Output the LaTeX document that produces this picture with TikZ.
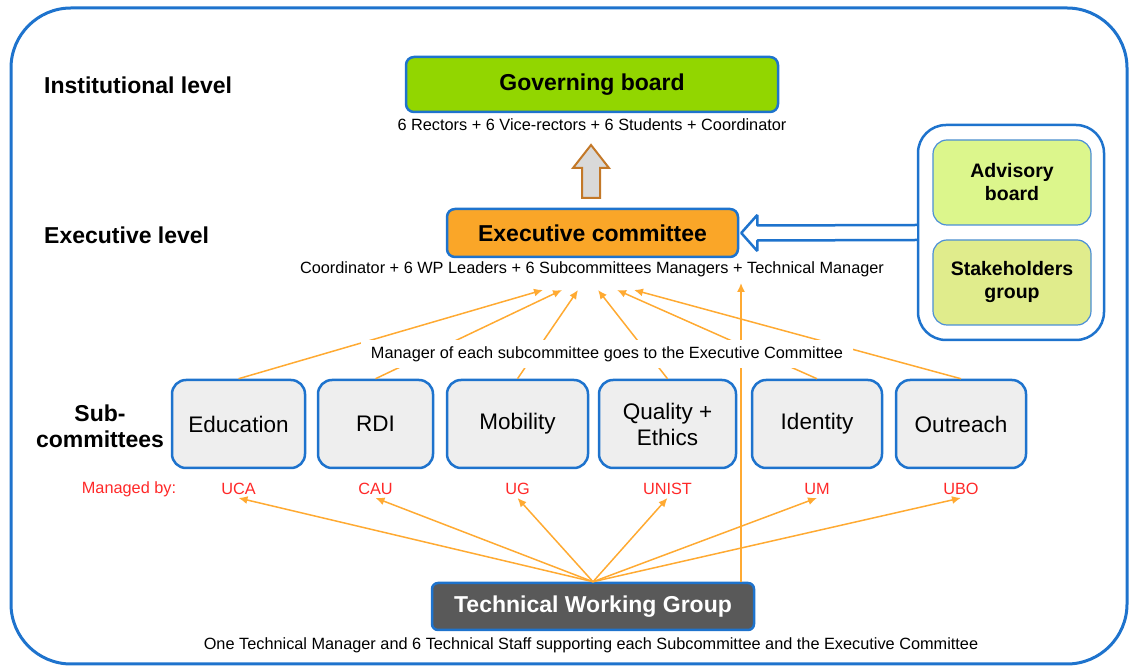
\documentclass[tikz,border=0pt]{standalone}
\usepackage{fontspec}
\setmainfont{Liberation Sans}
\usetikzlibrary{arrows.meta}
\usetikzlibrary{calc}

\definecolor{lineblue}{RGB}{30,115,205}
\definecolor{govgreen}{RGB}{146,214,0}
\definecolor{execorange}{RGB}{250,166,40}
\definecolor{advgreen}{RGB}{220,246,140}
\definecolor{stkgreen}{RGB}{224,236,140}
\definecolor{subgray}{RGB}{238,238,238}
\definecolor{twggray}{RGB}{89,89,89}
\definecolor{feedorange}{RGB}{255,170,50}
\definecolor{mgrred}{RGB}{255,40,40}
\definecolor{upbrown}{RGB}{195,120,40}
\definecolor{upgray}{RGB}{217,217,217}

\newcommand{\headfont}{\fontsize{23bp}{26bp}\selectfont\bfseries}
\newcommand{\boxfont}{\fontsize{22.5bp}{26bp}\selectfont}
\newcommand{\sidefont}{\fontsize{19.5bp}{23bp}\selectfont\bfseries}
\newcommand{\notefont}{\fontsize{16.3bp}{19bp}\selectfont}

\tikzset{
  blockbox/.style={draw=lineblue, line width=2.5bp, rounded corners=8bp, inner sep=0pt, align=center},
  subbox/.style={blockbox, fill=subgray, rounded corners=14bp, minimum height=88bp, font=\boxfont},
  sidebox/.style={draw=lineblue!80, line width=1.2bp, rounded corners=14bp, minimum width=158bp, minimum height=85bp, align=center, font=\sidefont},
  levellabel/.style={anchor=west, inner sep=0pt, font=\headfont},
  note/.style={inner sep=2bp, font=\notefont},
  mgrlabel/.style={inner sep=3bp, text=mgrred, font=\notefont},
  feed/.style={draw=feedorange, line width=1.5bp, -{Latex[length=9bp,width=8bp]}},
}

\begin{document}
\begin{tikzpicture}[>=latex,line join=bevel,]
\useasboundingbox (0bp,0bp) rectangle (1130bp,670bp);
%%
\draw [lineblue, line width=3bp, rounded corners=60bp] (11bp,6bp) rectangle (1127bp,662bp);
%
\node (inst_lbl) at (44bp,585bp) [levellabel] {Institutional level};
\node (exec_lbl) at (44bp,435bp) [levellabel] {Executive level};
\node (sub_lbl) at (100bp,244bp) [align=center, inner sep=0pt, font=\headfont] {Sub-\\committees};
%
\node (gov) at (592bp,585.5bp) [blockbox, fill=govgreen, minimum width=372bp, minimum height=55bp, font=\headfont] {Governing board};
\node (gov_note) at (592bp,545bp) [note] {6 Rectors + 6 Vice-rectors + 6 Students + Coordinator};
\node (exec) at (592.5bp,437bp) [blockbox, fill=execorange, minimum width=291bp, minimum height=48bp, font=\headfont] {Executive committee};
\node (exec_note) at (592bp,401bp) [note] {Coordinator + 6 WP Leaders + 6 Subcommittees Managers + Technical Manager};
% hollow arrow up to the board
\draw [upbrown, fill=upgray, line width=2bp, line join=miter] (582bp,472bp) -- (582bp,502bp) -- (573bp,502bp) -- (591bp,525bp) -- (609bp,502bp) -- (600bp,502bp) -- (600bp,472bp) -- cycle;
%
\node (panel) at (1011bp,437.5bp) [draw=lineblue, line width=2.5bp, fill=white, rounded corners=28bp, minimum width=186bp, minimum height=215bp] {};
\node (advisory) at (1012bp,487.5bp) [sidebox, fill=advgreen] {Advisory\\board};
\node (stake) at (1012bp,387.5bp) [sidebox, fill=stkgreen] {Stakeholders\\group};
\draw [lineblue, line width=2.5bp, fill=white] ($(panel.west)+(0,7.5bp)$) -- ($(exec.east)+(18bp,7.5bp)$) -- ($(exec.east)+(18bp,18bp)$) -- ($(exec.east)+(2bp,0)$) -- ($(exec.east)+(18bp,-18bp)$) -- ($(exec.east)+(18bp,-7.5bp)$) -- ($(panel.west)+(0,-7.5bp)$);
%
\node (edu) at (238.5bp,246bp) [subbox, minimum width=133bp] {Education};
\node (rdi) at (375.5bp,246bp) [subbox, minimum width=115bp] {RDI};
\node (mob) at (517.5bp,246bp) [subbox, minimum width=141bp] {Mobility};
\node (qual) at (667.5bp,246bp) [subbox, minimum width=137bp] {Quality +\\Ethics};
\node (iden) at (817bp,246bp) [subbox, minimum width=130bp] {Identity};
\node (outr) at (961bp,246bp) [subbox, minimum width=130bp] {Outreach};
%
\node (mgr_lbl) at (129bp,181bp) [mgrlabel] {Managed by:};
\node (mgr_edu) at (238.5bp,181bp) [mgrlabel] {UCA};
\node (mgr_rdi) at (375.5bp,181bp) [mgrlabel] {CAU};
\node (mgr_mob) at (517.5bp,181bp) [mgrlabel] {UG};
\node (mgr_qual) at (667.5bp,181bp) [mgrlabel] {UNIST};
\node (mgr_iden) at (817bp,181bp) [mgrlabel] {UM};
\node (mgr_outr) at (961bp,181bp) [mgrlabel] {UBO};
%
\node (twg) at (593bp,63.5bp) [blockbox, fill=twggray, rounded corners=6bp, minimum width=322bp, minimum height=47bp, text=white, font=\headfont] {Technical Working Group};
\node (twg_note) at (591bp,25bp) [note] {One Technical Manager and 6 Technical Staff supporting each Subcommittee and the Executive Committee};
%
\foreach \src/\x in {edu/543,rdi/562,mob/578,qual/598,iden/617,outr/634} {
  \coordinate (in_\src) at (\x bp,380bp);
  \draw [feed] (\src.north) -- (in_\src);
}
\coordinate (tm_tip) at (741bp,387bp);
\draw [feed] (twg.north -| tm_tip) -- (tm_tip);
\foreach \src in {edu,rdi,mob,qual,iden,outr} {
  \draw [feed] (twg.north) -- (mgr_\src.south);
}
\node (mgr_note) at (607bp,316bp) [note, fill=white, inner xsep=10bp, inner ysep=6bp] {Manager of each subcommittee goes to the Executive Committee};
%
\end{tikzpicture}
\end{document}
